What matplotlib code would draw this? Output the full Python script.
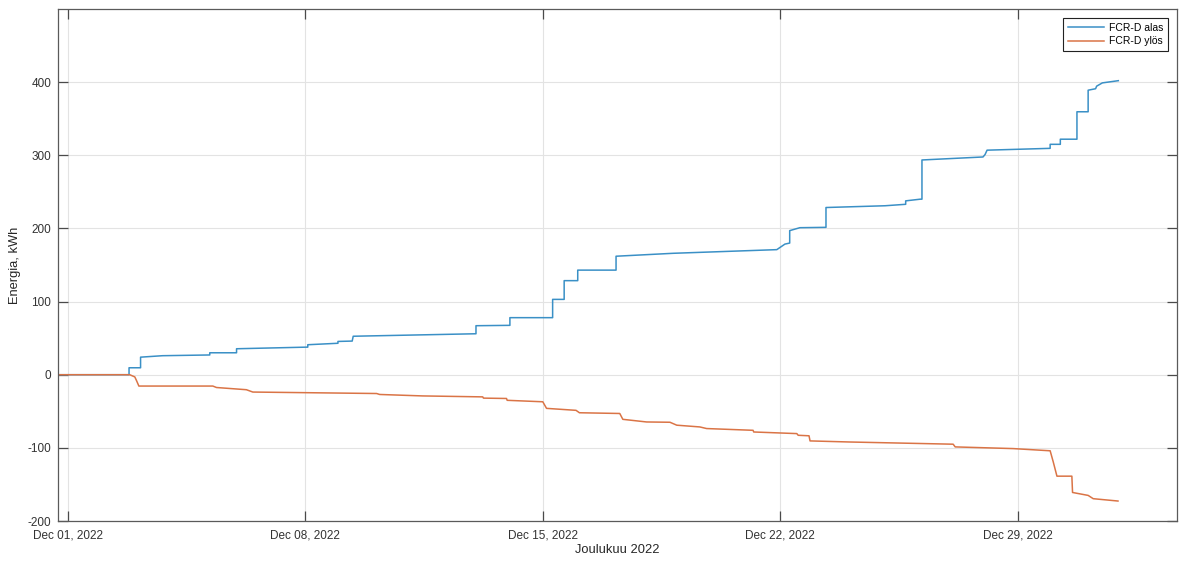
import numpy as np
import pandas as pd
import matplotlib
matplotlib.use("Agg")
from matplotlib import pyplot as plt
import matplotlib.dates as mdates

# Kumulatiivinen energia, joulukuu 2022 (päivää 1.12. alusta, kWh)
# portaat: sama päivä kahdesti peräkkäin
paiva_alas = [-0.28, 1.80, 1.80, 2.14, 2.14, 2.79, 4.18, 4.18, 4.97, 4.97, 7.03, 7.07, 7.07,
              7.96, 7.96, 8.38, 8.41, 12.03, 12.03, 13.03, 13.03, 14.29, 14.29, 14.63, 14.63,
              15.03, 15.03, 16.16, 16.16, 17.84, 20.90, 21.14, 21.28, 21.28, 21.58, 22.35,
              22.35, 24.09, 24.70, 24.70, 25.13, 25.18, 25.18, 26.98, 27.04, 27.10, 28.96,
              28.96, 29.26, 29.26, 29.75, 29.75, 30.08, 30.08, 30.30, 30.33, 30.50, 30.97]
energia_alas = [0, 0, 9.5, 9.5, 24, 26, 27, 30, 30, 35.5, 37.7, 37.7, 41,
                43, 45.5, 46, 52.6, 56, 67, 67.5, 78, 78, 103, 103, 128.6,
                128.6, 143, 143, 162, 166, 171, 178.6, 180, 197, 201, 201.5,
                228.6, 231, 233, 237.7, 240, 240, 293.6, 297.7, 301, 307, 309.5,
                315, 315, 322, 322, 359.5, 359.5, 389, 391, 394.5, 399, 402]

paiva_ylos = [-0.28, 1.82, 1.97, 2.02, 2.09, 4.27, 4.38, 5.26, 5.45, 9.10, 9.19, 10.46,
              12.23, 12.25, 12.93, 12.95, 14.00, 14.11, 14.98, 15.08, 16.27, 16.36, 17.06,
              17.75, 17.95, 18.63, 18.83, 20.20, 20.22, 21.49, 21.53, 21.85, 21.88, 23.06,
              26.10, 26.16, 27.87, 28.96, 29.05, 29.16, 29.60, 29.62, 29.93, 30.08, 30.23,
              30.96]
energia_ylos = [0, 0, -3, -8, -15.5, -15.5, -17.5, -20.5, -23.7, -25.7, -27, -29,
                -30.3, -32, -32.5, -35, -37, -46, -48.7, -52, -53, -61, -64.6,
                -65, -69, -71.4, -73.6, -76, -78.3, -80.5, -82.8, -83.5, -90.5, -92,
                -95, -98.7, -101, -104, -119, -138.7, -138.7, -161, -163.7, -165, -169.5,
                -172.7]

sarjat = ["FCR-D alas", "FCR-D ylös"]
varit = ["#3a90c6", "#da7446"]
x_tikit = ["2022-12-01", "2022-12-08", "2022-12-15", "2022-12-22", "2022-12-29"]

alku = pd.Timestamp("2022-12-01")


def ajat(paivat):
    return alku + pd.to_timedelta(np.array(paivat), unit="D")


plt.rcParams["font.family"] = ["Liberation Sans", "DejaVu Sans"]
plt.rcParams["axes.unicode_minus"] = False

fig = plt.figure(figsize=(11.79, 5.63), dpi=100)
ax = fig.add_axes([0.0494, 0.0746, 0.9489, 0.9094])

ax.plot(ajat(paiva_alas), energia_alas, color=varit[0], lw=1.1, label=sarjat[0])
ax.plot(ajat(paiva_ylos), energia_ylos, color=varit[1], lw=1.1, label=sarjat[1])

ax.set_xlim(alku - pd.Timedelta(hours=6.9), alku + pd.Timedelta(days=32.7))
ax.set_ylim(-200, 500)
ax.set_yticks([-200, -100, 0, 100, 200, 300, 400])
ax.set_xticks(pd.to_datetime(x_tikit))
ax.xaxis.set_major_formatter(mdates.DateFormatter("%b %d, %Y"))

ax.grid(True, color="#e3e3e3", lw=0.8)
ax.set_axisbelow(True)
for s in ax.spines.values():
    s.set_color("#5a5a5a")
    s.set_linewidth(0.9)
ax.tick_params(direction="in", length=7, width=0.9, color="#4a4a4a",
               labelsize=8.5, labelcolor="#333333", top=True, right=True)
ax.tick_params(axis="x", pad=6)
ax.tick_params(axis="y", pad=5)

ax.set_xlabel("Joulukuu 2022", fontsize=9.3, color="#262626", labelpad=2)
ax.set_ylabel("Energia, kWh", fontsize=9.3, color="#262626", labelpad=5)

leg = ax.legend(loc="upper right", fontsize=7.5, handlelength=3.5, fancybox=False,
                framealpha=1, edgecolor="#222222", borderaxespad=0.9,
                borderpad=0.45, labelspacing=0.3, handletextpad=0.4)
leg.get_frame().set_linewidth(0.8)

fig.savefig("out.png", dpi=100)
